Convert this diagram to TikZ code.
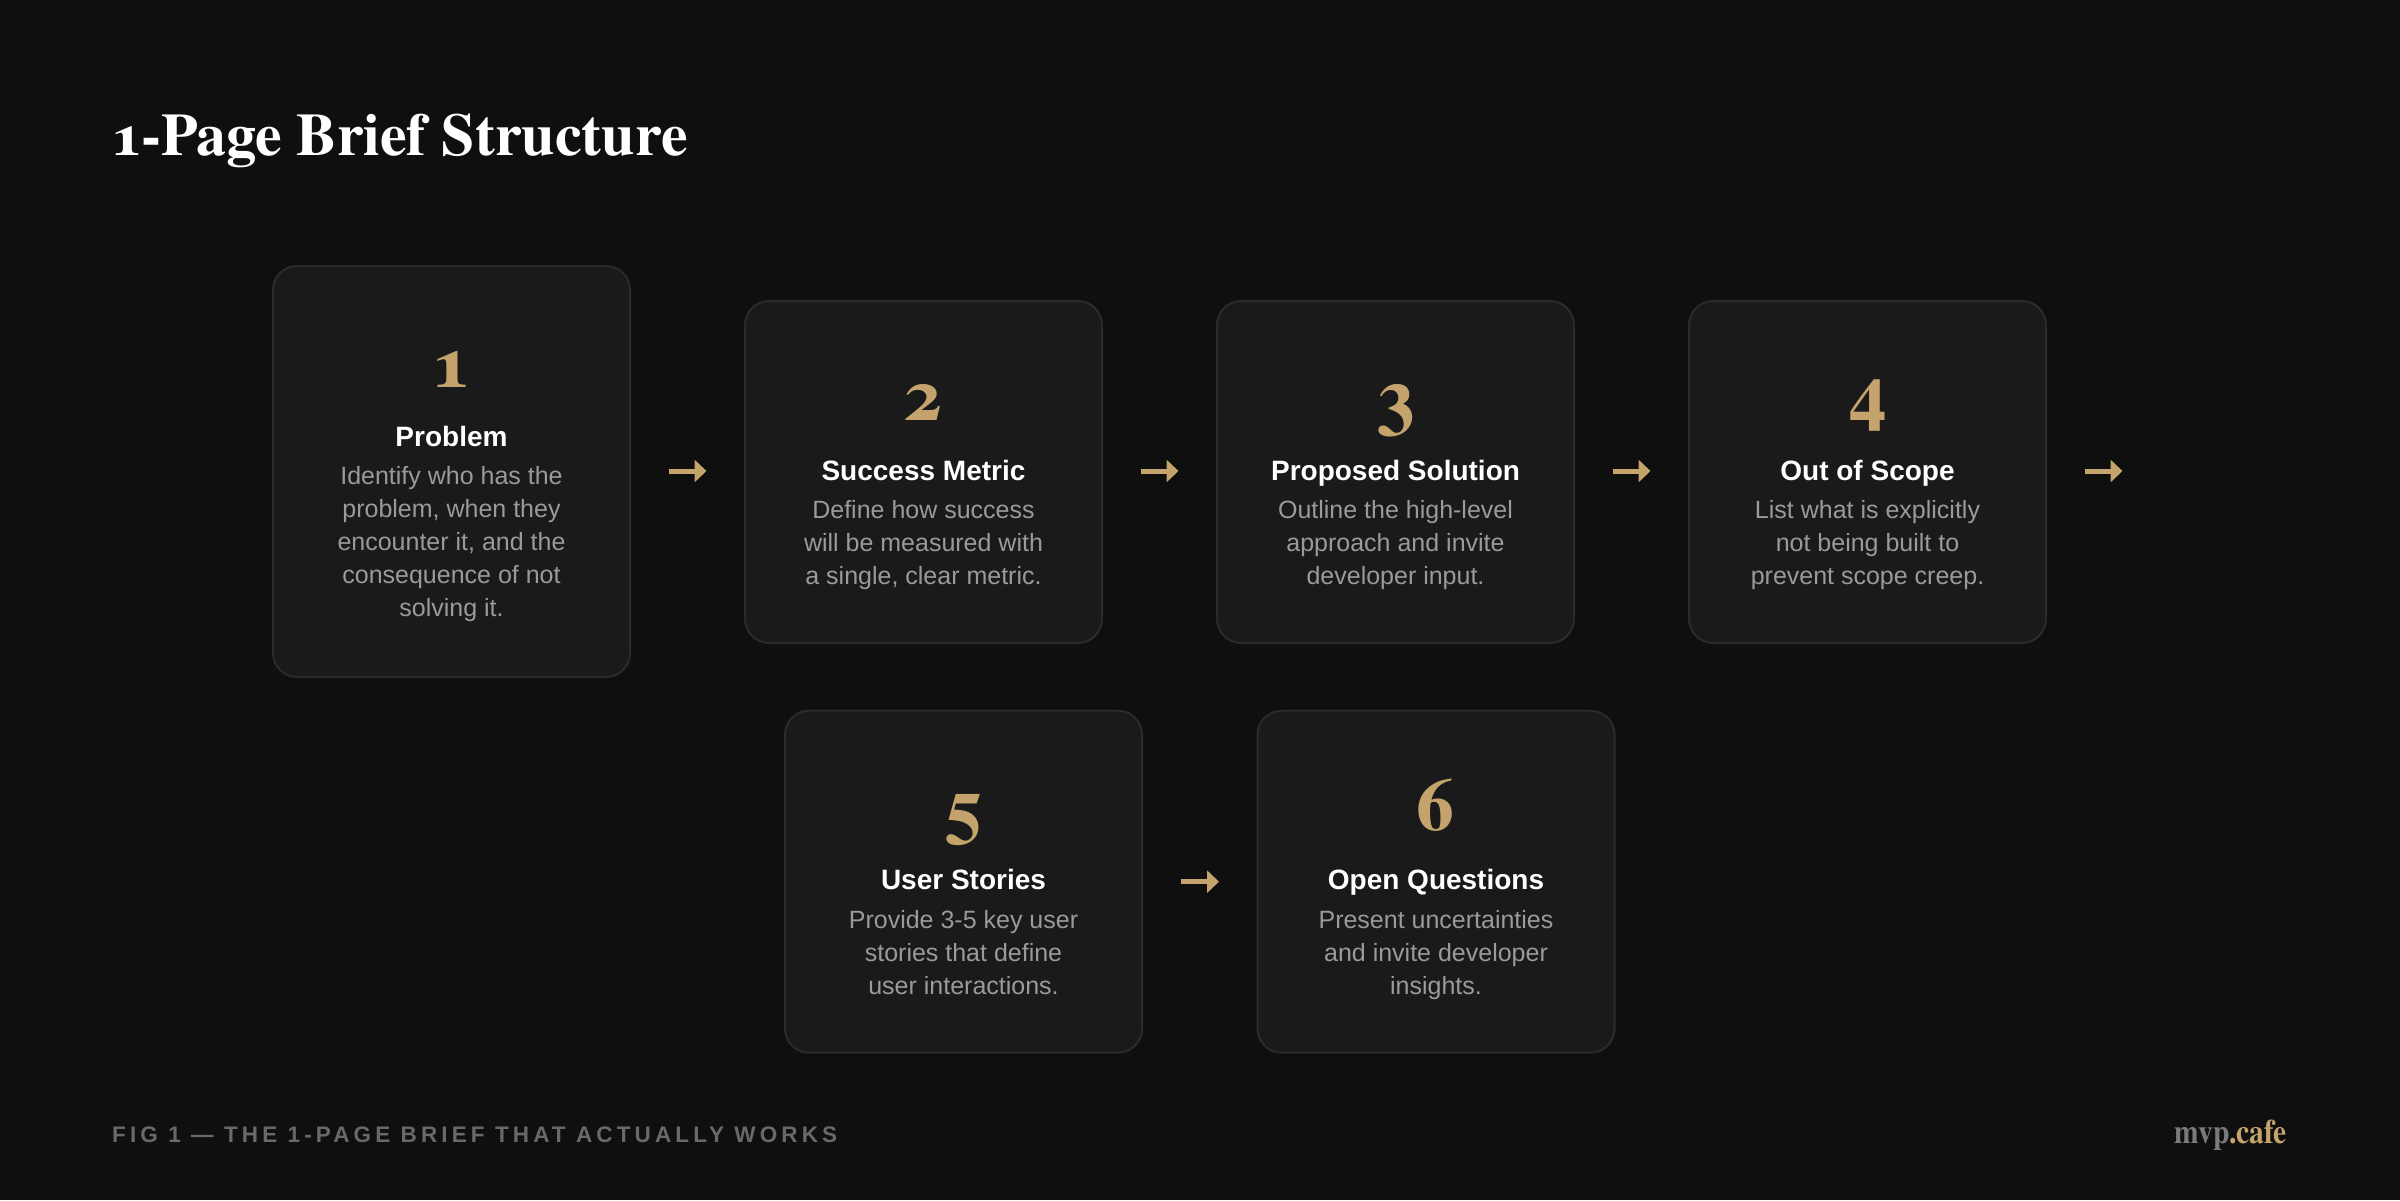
\documentclass[tikz,border=0pt]{standalone}
\usepackage{fontspec}
\setsansfont{Liberation Sans}
\newfontfamily\numfont{texgyretermes}[Extension=.otf, UprightFont=*-regular, BoldFont=*-bold, Numbers=OldStyle]
\usetikzlibrary{arrows.meta,calc}
\definecolor{bg}{HTML}{0F0F0F}
\definecolor{cardfill}{HTML}{1A1A1A}
\definecolor{cardline}{HTML}{2B2B2B}
\definecolor{gold}{HTML}{C4A46C}
\definecolor{desc}{HTML}{9A9A9A}
\definecolor{foot}{HTML}{696969}
\definecolor{brandgray}{HTML}{7A7A7A}
\newcommand\mkcard[8]{%
  \node[card, minimum height=#4] (#1) at (#2,#3) {};
  \node[num] (#1-n) at ($(#1.center)+(0,-51.3-#8)$) {#5};
  \node[ttl] (#1-t) at ($(#1-n.base)+(0,59.3)$) {#6};
  \node[dsc] (#1-d) at ($(#1-t.base)+(0,104.3+2*#8)$) {#7};
}
\begin{document}
\begin{tikzpicture}[x=1pt,y=-1pt,
  card/.style={draw=cardline, line width=2pt, fill=cardfill, rounded corners=24pt,
    minimum width=357pt, inner sep=0pt},
  num/.style={text=gold, font=\numfont\bfseries\fontsize{75}{80}\selectfont, anchor=base, inner sep=0pt},
  ttl/.style={text=white, font=\sffamily\bfseries\fontsize{28}{32}\selectfont, anchor=base, inner sep=0pt},
  dsc/.style={text=desc, font=\sffamily\fontsize{25}{33}\selectfont, align=center, anchor=base, inner sep=0pt},
  flow/.style={draw=gold, line width=5pt, -{Triangle[length=12pt,width=22pt]}}]
\fill[bg] (0,0) rectangle (2400,1200);
\useasboundingbox (0,0) rectangle (2400,1200);

\node[anchor=base west, inner sep=0pt, text=white, font=\numfont\bfseries\fontsize{60}{64}\selectfont] (title) at (113,155)
  {1-Page Brief Structure};

\mkcard{b1}{451.5}{471.5}{411}{1}{Problem}{Identify who has the\\problem, when they\\encounter it, and the\\consequence of not\\solving it.}{33}
\mkcard{b2}{923.5}{472}{342}{2}{Success Metric}{Define how success\\will be measured with\\a single, clear metric.}{0}
\mkcard{b3}{1395.5}{472}{342}{3}{Proposed Solution}{Outline the high-level\\approach and invite\\developer input.}{0}
\mkcard{b4}{1867.5}{472}{342}{4}{Out of Scope}{List what is explicitly\\not being built to\\prevent scope creep.}{0}
\mkcard{b5}{963.5}{881.7}{342}{5}{User Stories}{Provide 3-5 key user\\stories that define\\user interactions.}{0}
\mkcard{b6}{1436}{881.7}{342}{6}{Open Questions}{Present uncertainties\\and invite developer\\insights.}{0}

\coordinate (e4) at ($(b4.east)+(75.5,-1)$);
\draw[flow] ($(b1.east)+(37.5,-0.5)$) -- ($(b2.west)+(-37.5,-1)$);
\draw[flow] ($(b2.east)+(37.5,-1)$) -- ($(b3.west)+(-37.5,-1)$);
\draw[flow] ($(b3.east)+(37.5,-1)$) -- ($(b4.west)+(-37.5,-1)$);
\draw[flow] ($(b4.east)+(37.5,-1)$) -- (e4);
\draw[flow] ($(b5.east)+(37.5,0)$) -- ($(b6.west)+(-37.5,0)$);

\node[anchor=base west, inner sep=0pt, text=foot,
  font=\sffamily\bfseries\fontsize{22.5}{24}\selectfont\addfontfeature{LetterSpace=18.3}] (fig) at (112,1142)
  {FIG 1 — THE 1-PAGE BRIEF THAT ACTUALLY WORKS};
\node[anchor=base east, inner sep=0pt, font=\numfont\bfseries\fontsize{34}{36}\selectfont] (brand) at (2287,1143)
  {\scalebox{0.87}[1]{\textcolor{brandgray}{mvp}\textcolor{gold}{.cafe}}};
\end{tikzpicture}
\end{document}
